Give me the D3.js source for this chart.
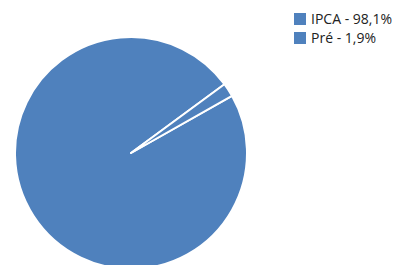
<!DOCTYPE html>
<html lang="pt">
<head>
  <meta charset="UTF-8">
  <script src="https://d3js.org/d3.v7.min.js"></script>
  <title>Indexador</title>
  <style>
    body { margin: 0; overflow: hidden; background: #fff; font-family: "Open Sans", "Noto Sans", sans-serif; }
  </style>
</head>
<body>
<script>
  // Chart data
  const labels = ["IPCA", "Pré"];
  const values = [98.1, 1.9];
  const colors = ["#4f81bd", "#4f81bd"];

  const width = 405, height = 265;
  const svg = d3.select("body").append("svg")
    .attr("width", width)
    .attr("height", height);

  const cx = 131, cy = 153, radius = 116;
  const startDeg = 60.5;

  const pie = d3.pie()
    .sort(null)
    .value(d => d.value)
    .startAngle(startDeg * Math.PI / 180)
    .endAngle((startDeg + 360) * Math.PI / 180);

  const arc = d3.arc().innerRadius(0).outerRadius(radius);

  const data = labels.map((l, i) => ({ label: l, value: values[i], color: colors[i] }));

  svg.append("g")
    .attr("transform", `translate(${cx},${cy})`)
    .selectAll("path")
    .data(pie(data))
    .enter().append("path")
    .attr("d", arc)
    .attr("fill", d => d.data.color)
    .attr("stroke", "#fff")
    .attr("stroke-width", 2)
    .attr("stroke-linejoin", "round");

  // Legend
  const legend = svg.append("g").attr("transform", "translate(294,13)");
  const item = legend.selectAll("g")
    .data(data)
    .enter().append("g")
    .attr("transform", (d, i) => `translate(0,${i * 19})`);

  item.append("rect")
    .attr("width", 12)
    .attr("height", 12)
    .attr("fill", d => d.color);

  item.append("text")
    .attr("x", 17)
    .attr("y", 11)
    .attr("font-size", 14)
    .attr("fill", "#222")
    .text(d => `${d.label} - ${d3.format(".1f")(d.value).replace(".", ",")}%`);
</script>
</body>
</html>
